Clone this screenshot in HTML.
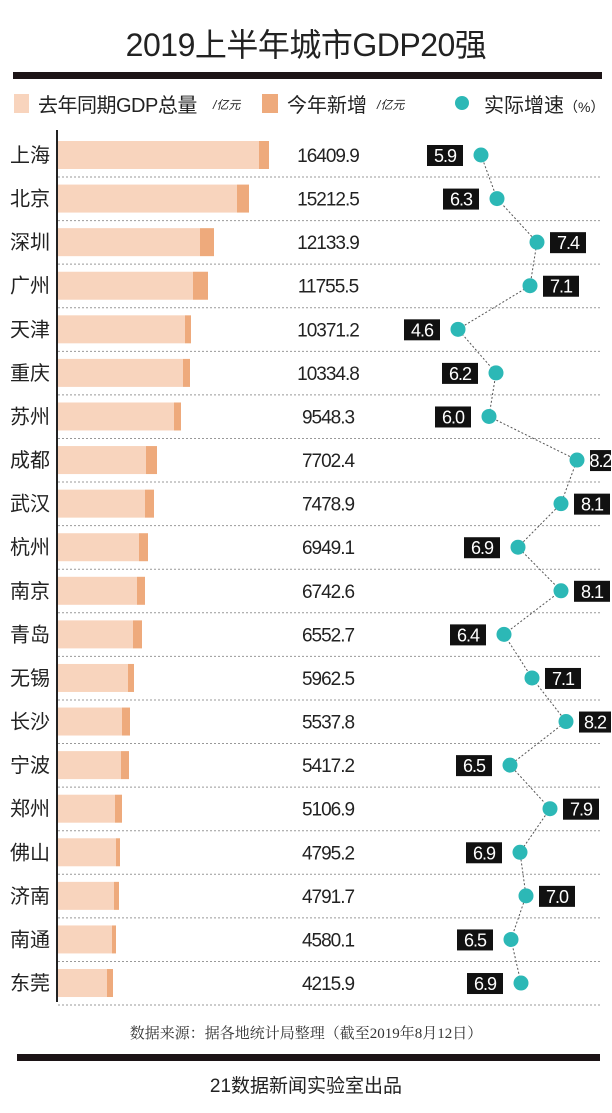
<!DOCTYPE html>
<html><head><meta charset="utf-8"><style>
body{margin:0;background:#fff;}
#c{position:relative;width:612px;height:1113px;overflow:hidden;font-family:"Liberation Sans","Noto Sans CJK SC",sans-serif;color:#222;}
.a{position:absolute;white-space:nowrap;}
</style></head><body><div id="c">
<div class="a" style="left:0;width:612px;top:20px;text-align:center;font-size:32px;color:#222;letter-spacing:-0.5px">2019上半年城市GDP20强</div>
<div class="a" style="left:13px;width:589px;top:72px;height:7px;background:#1c1416"></div>
<div class="a" style="left:14px;top:94px;width:15px;height:19px;background:#f8d4bd"></div>
<div class="a" style="left:38px;top:89px;font-size:20px;letter-spacing:-0.5px">去年同期GDP总量</div>
<div class="a" style="left:213px;top:96px;font-size:12px;font-style:italic">/亿元</div>
<div class="a" style="left:262px;top:94px;width:16px;height:19px;background:#eeaa7c"></div>
<div class="a" style="left:287px;top:89px;font-size:20px">今年新增</div>
<div class="a" style="left:377px;top:96px;font-size:12px;font-style:italic">/亿元</div>
<div class="a" style="left:455px;top:96px;width:14px;height:14px;border-radius:50%;background:#2cb8b6"></div>
<div class="a" style="left:484px;top:89px;font-size:20px">实际增速<span style="font-size:14px">（%）</span></div>
<div class="a" style="left:56px;top:130px;width:2px;height:872px;background:#222"></div>
<svg class="a" style="left:0;top:0" width="612" height="1113" id="s"></svg>
<div class="a" style="left:0;width:612px;top:1022px;text-align:center;font-family:'Liberation Serif','Noto Serif CJK SC',serif;font-size:15px;color:#333">数据来源：据各地统计局整理（截至2019年8月12日）</div>
<div class="a" style="left:17px;width:583px;top:1054px;height:7px;background:#1c1416"></div>
<div class="a" style="left:0;width:612px;top:1071px;text-align:center;font-size:19px;color:#222">21数据新闻实验室出品</div>
</div>
<script>
var d=[["上海","16409.9",259,269,5.9,481,0],["北京","15212.5",237,249,6.3,497,0],["深圳","12133.9",200,214,7.4,537,1],["广州","11755.5",193,208,7.1,530,1],["天津","10371.2",185,191,4.6,458,0],["重庆","10334.8",183,190,6.2,496,0],["苏州","9548.3",174,181,"6.0",489,0],["成都","7702.4",146,157,8.2,577,1],["武汉","7478.9",145,154,8.1,561,1],["杭州","6949.1",139,148,6.9,518,0],["南京","6742.6",137,145,8.1,561,1],["青岛","6552.7",133,142,6.4,504,0],["无锡","5962.5",128,134,7.1,532,1],["长沙","5537.8",122,130,8.2,566,1],["宁波","5417.2",121,129,6.5,510,0],["郑州","5106.9",115,122,7.9,550,1],["佛山","4795.2",116,120,6.9,520,0],["济南","4791.7",114,119,"7.0",526,1],["南通","4580.1",112,116,6.5,511,0],["东莞","4215.9",107,113,6.9,521,0]];
var s='',pts=[];
d.forEach(function(r,i){var y=155+i*43.58;
s+='<rect x="58" y="'+(y-14)+'" width="'+(r[2]-58)+'" height="28" fill="#f8d4bd"/>';
s+='<rect x="'+r[2]+'" y="'+(y-14)+'" width="'+(r[3]-r[2])+'" height="28" fill="#eeaa7c"/>';
s+='<text x="10" y="'+(y+7)+'" font-size="20" fill="#222">'+r[0]+'</text>';
s+='<text x="328" y="'+(y+7)+'" font-size="19" fill="#222" text-anchor="middle" letter-spacing="-1">'+r[1]+'</text>';
s+='<line x1="58" x2="602" y1="'+(y+22)+'" y2="'+(y+22)+'" stroke="#999" stroke-dasharray="2,2" stroke-width="1"/>';
pts.push(r[5]+','+y);
var w=36,lx=r[6]?r[5]+13:r[5]-54;
if(lx+w>611){w=611-lx;}
s+='<rect x="'+lx+'" y="'+(y-10)+'" width="'+w+'" height="21" fill="#111"/>';
s+='<text x="'+(lx+w/2)+'" y="'+(y+7)+'" font-size="18" fill="#fff" text-anchor="middle" letter-spacing="-1">'+r[4]+'</text>';
});
s+='<polyline points="'+pts.join(' ')+'" fill="none" stroke="#555" stroke-dasharray="2,2" stroke-width="1"/>';
pts.forEach(function(p){var q=p.split(',');s+='<circle cx="'+q[0]+'" cy="'+q[1]+'" r="7.5" fill="#2cb8b6"/>';});
document.getElementById('s').innerHTML=s;
</script>
</body></html>
